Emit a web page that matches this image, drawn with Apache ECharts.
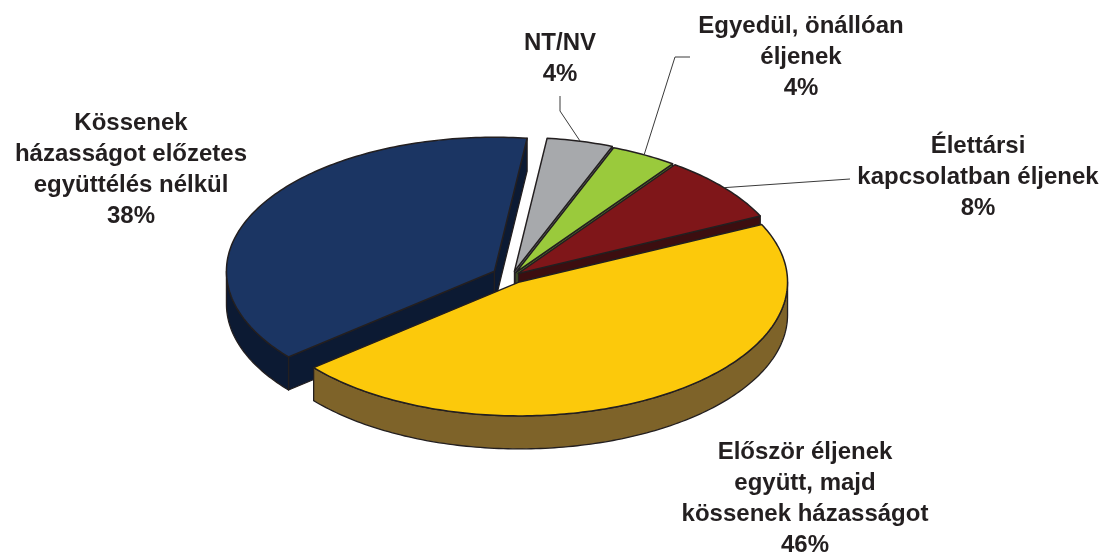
<!DOCTYPE html>
<html><head><meta charset="utf-8">
<script src="https://cdn.jsdelivr.net/npm/echarts@6/dist/echarts.min.js"></script>
<style>html,body{margin:0;padding:0;background:#fff}#c{width:1107px;height:556px}</style>
</head><body><div id="c"></div>
<script>
// ---- data ----
const categories = [
  'NT/NV',
  'Egyedül, önállóan\néljenek',
  'Élettársi\nkapcsolatban éljenek',
  'Először éljenek\negyütt, majd\nkössenek házasságot',
  'Kössenek\nházasságot előzetes\negyüttélés nélkül'
];
const values = [4, 4, 8, 46, 38];

// ---- styles / layout ----
const topColors  = ['#a7a9ac', '#9aca3c', '#7f1619', '#fcc90b', '#1b3563'];
const wallColors = ['#6d6e71', '#5a772b', '#3c0e10', '#7e6329', '#0c1a33'];
const explode    = [10, 8, 8, 14, 20];
const labelPos   = [[560, 52], [801, 35], [978, 155], [805, 461], [131, 132]];
const leaderPts  = [[[560, 111], [560, 96]], [[675, 57], [690, 57]], [[850, 179]], null, null];
const CX = 512, CY = 276, RX = 268, RY = 134, DEPTH = 33, START = -83;
const EDGE = '#231f20';
const FONT = 'bold 24px "Liberation Sans", Arial, sans-serif';
const LH = 31;

const total = values.reduce((a, b) => a + b, 0);
const rad = Math.PI / 180;

function renderItem(params, api) {
  const i = params.dataIndex;
  let acc = 0;
  for (let k = 0; k < i; k++) acc += values[k];
  const a0 = START + acc / total * 360;
  const a1 = START + (acc + api.value(0)) / total * 360;
  const mid = (a0 + a1) / 2 * rad;
  const ox = CX + explode[i] * Math.cos(mid);
  const oy = CY + explode[i] * Math.sin(mid) * RY / RX;
  const pt = (a, dy) => [ox + RX * Math.cos(a * rad), oy + RY * Math.sin(a * rad) + (dy || 0)];
  const arc = (from, to, dy) => {
    const n = Math.max(2, Math.ceil(Math.abs(to - from)));
    const p = [];
    for (let k = 0; k <= n; k++) p.push(pt(from + (to - from) * k / n, dy));
    return p;
  };
  const wallStyle = { fill: wallColors[i], stroke: EDGE, lineWidth: 1.3, lineJoin: 'round' };
  const children = [];
  // top face
  children.push({ type: 'polygon', z2: 30, shape: { points: [[ox, oy]].concat(arc(a0, a1, 0)) },
    style: { fill: topColors[i], stroke: EDGE, lineWidth: 1.5, lineJoin: 'round' } });
  // radial walls
  if (Math.cos(a0 * rad) < 0) {
    children.push({ type: 'polygon', z2: 10, shape: { points: [[ox, oy], pt(a0), pt(a0, DEPTH), [ox, oy + DEPTH]] }, style: wallStyle });
  }
  if (Math.cos(a1 * rad) > 0) {
    children.push({ type: 'polygon', z2: 10, shape: { points: [[ox, oy], pt(a1), pt(a1, DEPTH), [ox, oy + DEPTH]] }, style: wallStyle });
  }
  // outer (front-facing) wall
  [-360, 0, 360].forEach(k => {
    const lo = Math.max(a0, k), hi = Math.min(a1, k + 180);
    if (hi > lo) {
      children.push({ type: 'polygon', z2: 20, shape: { points: arc(lo, hi, 0).concat(arc(hi, lo, DEPTH)) }, style: wallStyle });
    }
  });
  // leader line
  if (leaderPts[i]) {
    children.push({ type: 'polyline', z2: 40, shape: { points: [pt((a0 + a1) / 2)].concat(leaderPts[i]) },
      style: { stroke: '#3a3a3a', lineWidth: 1, fill: null } });
  }
  return { type: 'group', children };
}

const chart = echarts.init(document.getElementById('c'), null, { renderer: 'canvas' });
chart.setOption({
  backgroundColor: '#ffffff',
  animation: false,
  series: [{
    type: 'custom',
    coordinateSystem: 'none',
    silent: true,
    renderItem,
    data: values.map(v => [v])
  }],
  graphic: categories.map((c, i) => ({
    type: 'text',
    x: labelPos[i][0],
    y: labelPos[i][1] - 24,
    silent: true,
    z: 100,
    style: {
      text: c + '\n' + Math.round(values[i] / total * 100) + '%',
      font: FONT,
      fill: '#231f20',
      align: 'center',
      textAlign: 'center',
      verticalAlign: 'top',
      lineHeight: LH
    }
  }))
});
</script></body></html>
